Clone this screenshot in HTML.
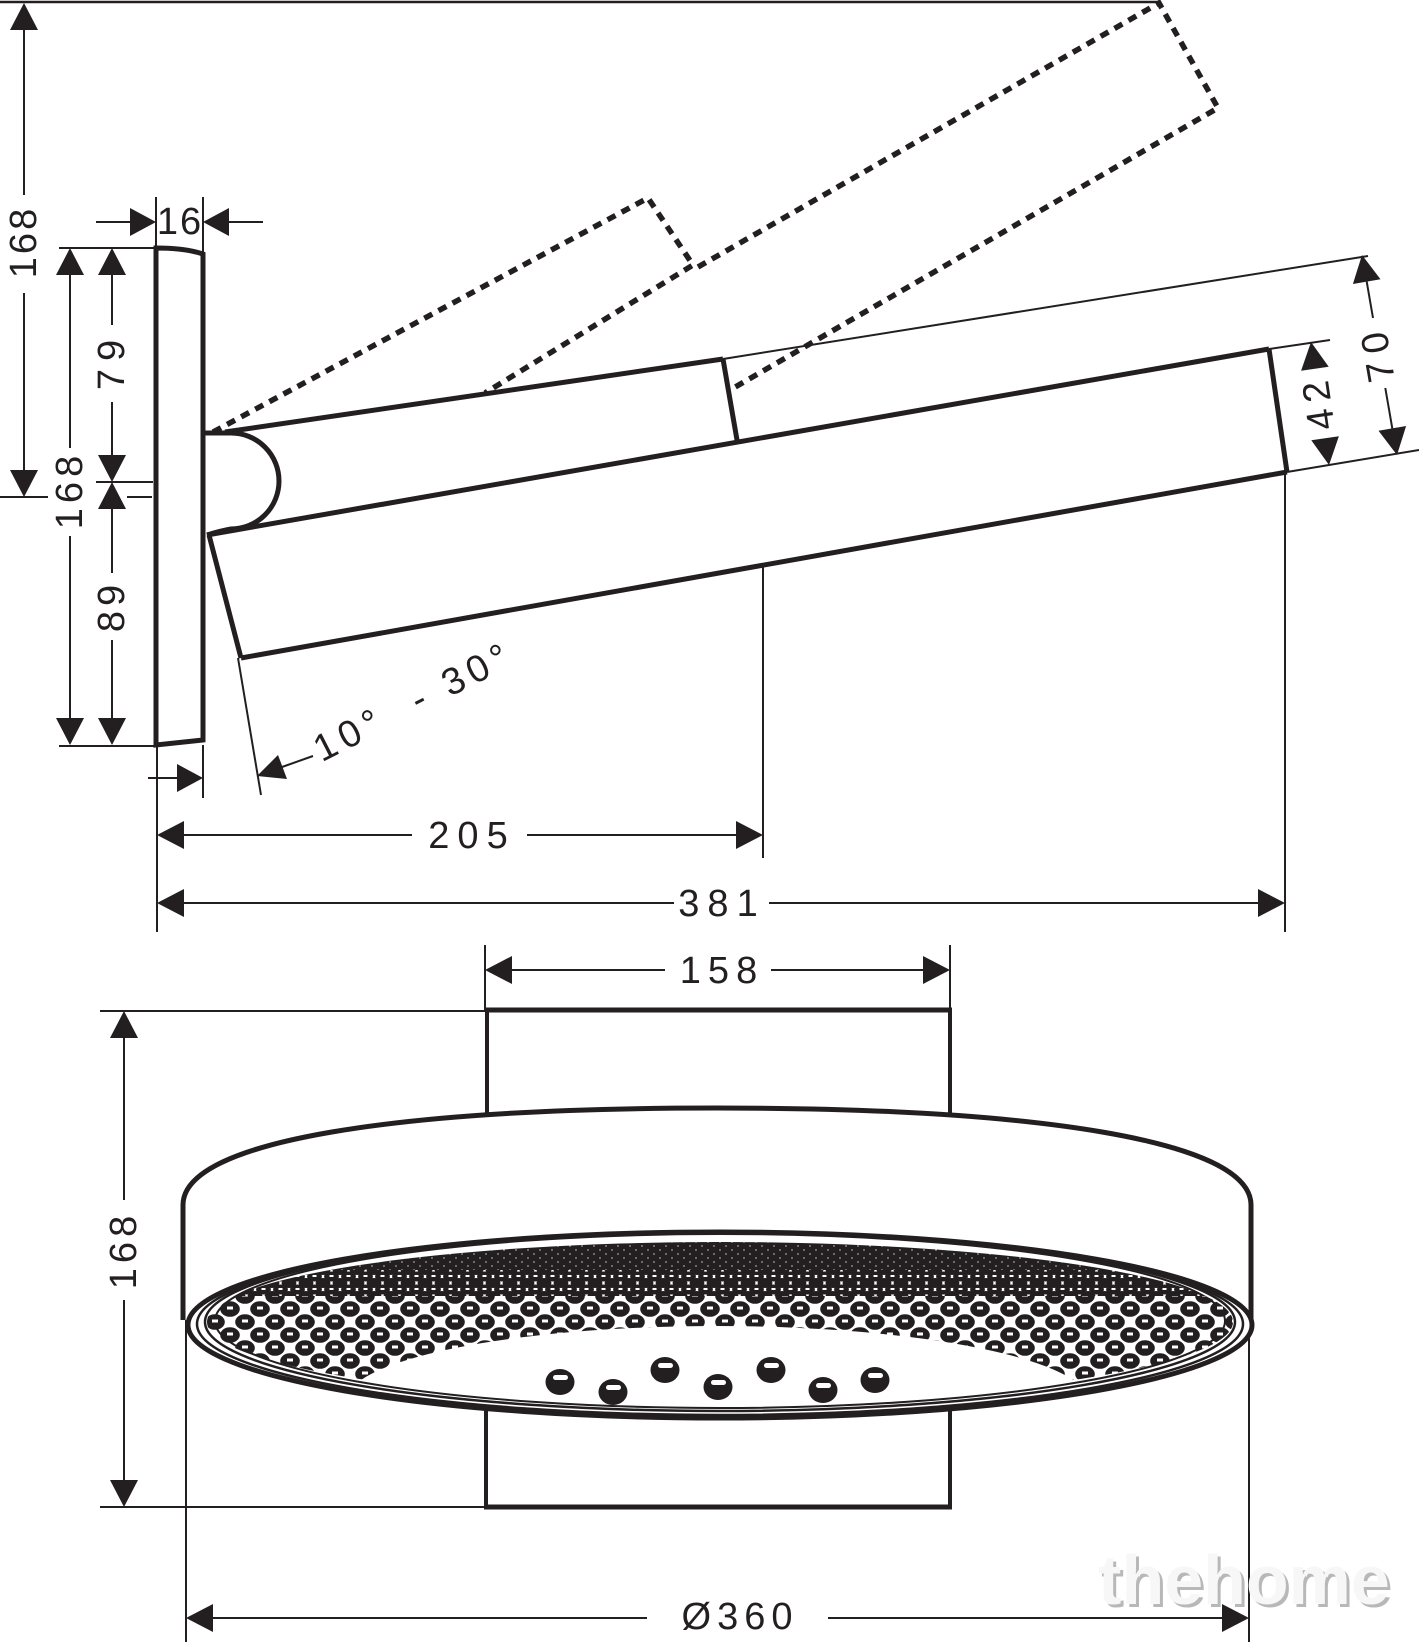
<!DOCTYPE html>
<html><head><meta charset="utf-8">
<style>
html,body{margin:0;padding:0;background:#fff;}
svg{display:block;}
text{font-family:"Liberation Sans",sans-serif;font-size:38px;fill:#231f20;}
</style></head>
<body>
<svg width="1419" height="1642" viewBox="0 0 1419 1642" xmlns="http://www.w3.org/2000/svg">
<defs>
  <pattern id="p1" patternUnits="userSpaceOnUse" x="0" y="1238" width="12" height="8">
    <ellipse cx="6" cy="4" rx="5.5" ry="3.5" fill="#231f20"/>
    <ellipse cx="0" cy="0" rx="5.5" ry="3.5" fill="#231f20"/>
    <ellipse cx="12" cy="0" rx="5.5" ry="3.5" fill="#231f20"/>
    <ellipse cx="0" cy="8" rx="5.5" ry="3.5" fill="#231f20"/>
    <ellipse cx="12" cy="8" rx="5.5" ry="3.5" fill="#231f20"/>
  </pattern>
  <pattern id="p2" patternUnits="userSpaceOnUse" x="0" y="1270" width="17" height="13">
    <ellipse cx="8.5" cy="6.5" rx="7.4" ry="5" fill="#231f20"/>
    <ellipse cx="0" cy="0" rx="7.4" ry="5" fill="#231f20"/>
    <ellipse cx="17" cy="0" rx="7.4" ry="5" fill="#231f20"/>
    <ellipse cx="0" cy="13" rx="7.4" ry="5" fill="#231f20"/>
    <ellipse cx="17" cy="13" rx="7.4" ry="5" fill="#231f20"/>
    <rect x="6.5" y="5" width="4" height="2" fill="#fff"/>
  </pattern>
  <pattern id="p3" patternUnits="userSpaceOnUse" x="5" y="1296" width="30" height="26">
    <ellipse cx="15" cy="13" rx="9.8" ry="7.8" fill="#231f20"/>
    <ellipse cx="0" cy="0" rx="9.8" ry="7.8" fill="#231f20"/>
    <ellipse cx="30" cy="0" rx="9.8" ry="7.8" fill="#231f20"/>
    <ellipse cx="0" cy="26" rx="9.8" ry="7.8" fill="#231f20"/>
    <ellipse cx="30" cy="26" rx="9.8" ry="7.8" fill="#231f20"/>
    <rect x="12" y="10.5" width="6" height="3" fill="#fff"/>
    <rect x="-3" y="-2.5" width="6" height="3" fill="#fff"/>
    <rect x="27" y="-2.5" width="6" height="3" fill="#fff"/>
    <rect x="-3" y="23.5" width="6" height="3" fill="#fff"/>
    <rect x="27" y="23.5" width="6" height="3" fill="#fff"/>
  </pattern>
  <mask id="dm" maskUnits="userSpaceOnUse" x="0" y="0" width="1419" height="1642">
    <rect x="0" y="0" width="1419" height="1642" fill="#000"/>
    <ellipse cx="720" cy="1322" rx="513" ry="80" fill="#fff"/>
    <ellipse cx="717" cy="1402" rx="372" ry="76" fill="#000"/>
  </mask>
</defs>

<g stroke="#231f20" fill="none" stroke-linecap="butt">
  <!-- ===== TOP VIEW ===== -->
  <line x1="0" y1="2" x2="1159" y2="2" stroke-width="2.5"/>

  <g stroke-width="5.5" stroke-dasharray="9 7">
    <path d="M213,432 L648,198 L693,265 L485,393"/>
    <path d="M698,267 L1159,3 L1218,108 L730,390"/>
  </g>

  <path d="M156,745 L156,248 Q185,248 203,254 L203,740 Q185,742 156,745 Z" stroke-width="5"/>

  <path d="M203,433 L231,433 A48,48 0 0 1 231,529 Q220,531 207,535" stroke-width="5"/>

  <g stroke-width="5" stroke-linejoin="round">
    <line x1="225" y1="432" x2="723" y2="359"/>
    <line x1="723" y1="359" x2="737" y2="440"/>
    <line x1="207" y1="535" x2="1269" y2="349"/>
    <line x1="1269" y1="349" x2="1287" y2="472"/>
    <line x1="1287" y1="472" x2="241" y2="658"/>
    <line x1="209" y1="535" x2="241" y2="658"/>
  </g>

  <g stroke-width="2">
    <line x1="723" y1="359" x2="1368" y2="256"/>
    <line x1="1269" y1="349" x2="1330" y2="340"/>
    <line x1="1287" y1="472" x2="1419" y2="450"/>
    <line x1="238" y1="658" x2="261" y2="795"/>
    <line x1="763" y1="567" x2="763" y2="858"/>
    <line x1="1285" y1="473" x2="1285" y2="932"/>
    <line x1="157" y1="745" x2="157" y2="932"/>
    <line x1="203" y1="745" x2="203" y2="798"/>
    <line x1="156" y1="197" x2="156" y2="248"/>
    <line x1="203" y1="197" x2="203" y2="252"/>
    <line x1="59" y1="248" x2="156" y2="248"/>
    <line x1="96" y1="482" x2="153" y2="482"/>
    <line x1="0" y1="497" x2="48" y2="497"/>
    <line x1="127" y1="497" x2="152" y2="497"/>
    <line x1="59" y1="746" x2="156" y2="746"/>
    <line x1="24" y1="30" x2="24" y2="195"/>
    <line x1="24" y1="293" x2="24" y2="470"/>
    <line x1="70" y1="275" x2="70" y2="448"/>
    <line x1="70" y1="536" x2="70" y2="718"/>
    <line x1="112" y1="275" x2="112" y2="325"/>
    <line x1="112" y1="402" x2="112" y2="455"/>
    <line x1="112" y1="509" x2="112" y2="573"/>
    <line x1="112" y1="640" x2="112" y2="718"/>
    <line x1="96" y1="222" x2="130" y2="222"/>
    <line x1="229" y1="222" x2="263" y2="222"/>
    <line x1="148" y1="778" x2="177" y2="778"/>
    <line x1="282" y1="767" x2="313" y2="756"/>
    <line x1="184" y1="835" x2="412" y2="835"/>
    <line x1="527" y1="835" x2="736" y2="835"/>
    <line x1="184" y1="903" x2="674" y2="903"/>
    <line x1="769" y1="903" x2="1258" y2="903"/>
    <line x1="1366.7" y1="281.6" x2="1373" y2="318"/>
    <line x1="1385.3" y1="388" x2="1392.3" y2="428.4"/>
  </g>

  <!-- ===== BOTTOM VIEW ===== -->
  <g stroke-width="2">
    <line x1="485" y1="945" x2="485" y2="1010"/>
    <line x1="950" y1="945" x2="950" y2="1010"/>
    <line x1="512" y1="970" x2="665" y2="970"/>
    <line x1="771" y1="970" x2="923" y2="970"/>
    <line x1="100" y1="1011" x2="485" y2="1011"/>
    <line x1="100" y1="1507" x2="484" y2="1507"/>
    <line x1="124" y1="1038" x2="124" y2="1200"/>
    <line x1="124" y1="1300" x2="124" y2="1480"/>
    <line x1="186" y1="1320" x2="186" y2="1642"/>
    <line x1="1249" y1="1320" x2="1249" y2="1642"/>
    <line x1="213" y1="1618" x2="647" y2="1618"/>
    <line x1="828" y1="1618" x2="1222" y2="1618"/>
  </g>

  <path d="M486,1390 L486,1507 L950,1507 L950,1390" stroke-width="4"/>
  <line x1="484" y1="1507" x2="952" y2="1507" stroke-width="5"/>
  <path d="M487,1130 L487,1010 L950,1010 L950,1130" stroke-width="4"/>
  <line x1="485" y1="1010" x2="952" y2="1010" stroke-width="5"/>

  <!-- body -->
  <path d="M183,1320 L183,1205 C183,1140 400,1108 717,1108 C1034,1108 1251,1140 1251,1205 L1251,1320 Z" fill="#fff" stroke="none"/>
  <path d="M183,1320 L183,1205 C183,1140 400,1108 717,1108 C1034,1108 1251,1140 1251,1205 L1251,1320" stroke-width="5"/>

  <!-- face -->
  <ellipse cx="720" cy="1325" rx="532" ry="93" fill="#fff" stroke-width="5"/>
  <ellipse cx="720" cy="1324" rx="523" ry="91" stroke-width="2.5"/>
  <ellipse cx="720" cy="1322" rx="515" ry="89" stroke-width="2.5"/>
  <ellipse cx="720" cy="1321" rx="505" ry="87" stroke-width="2"/>
</g>

<!-- nozzle field -->
<g mask="url(#dm)">
  <rect x="200" y="1236" width="1040" height="34" fill="url(#p1)"/>
  <rect x="200" y="1270" width="1040" height="26" fill="url(#p2)"/>
  <rect x="200" y="1296" width="1040" height="100" fill="url(#p3)"/>
</g>

<!-- big nozzles -->
<g fill="#231f20">
  <ellipse cx="560" cy="1382" rx="14.5" ry="13"/>
  <ellipse cx="613" cy="1392" rx="14.5" ry="13"/>
  <ellipse cx="665" cy="1370" rx="14.5" ry="13"/>
  <ellipse cx="718" cy="1387" rx="14.5" ry="13"/>
  <ellipse cx="771" cy="1370" rx="14.5" ry="13"/>
  <ellipse cx="823" cy="1390" rx="14.5" ry="13"/>
  <ellipse cx="875" cy="1380" rx="14.5" ry="13"/>
</g>
<g fill="#fff">
  <rect x="553" y="1375" width="15" height="5" rx="2.5"/>
  <rect x="606" y="1385" width="15" height="5" rx="2.5"/>
  <rect x="658" y="1363" width="15" height="5" rx="2.5"/>
  <rect x="711" y="1380" width="15" height="5" rx="2.5"/>
  <rect x="764" y="1363" width="15" height="5" rx="2.5"/>
  <rect x="816" y="1383" width="15" height="5" rx="2.5"/>
  <rect x="868" y="1373" width="15" height="5" rx="2.5"/>
</g>

<!-- arrowheads -->
<g fill="#231f20">
  <polygon points="24,3 10,30 38,30"/>
  <polygon points="24,497 10,470 38,470"/>
  <polygon points="70,248 56,275 84,275"/>
  <polygon points="70,745 56,718 84,718"/>
  <polygon points="112,248 98,275 126,275"/>
  <polygon points="112,482 98,455 126,455"/>
  <polygon points="112,482 98,509 126,509"/>
  <polygon points="112,745 98,718 126,718"/>
  <polygon points="156,222 130,208 130,236"/>
  <polygon points="203,222 229,208 229,236"/>
  <polygon points="203,778 177,764 177,792"/>
  <polygon points="257,776 278,755 287,779"/>
  <polygon points="157,835 184,821 184,849"/>
  <polygon points="763,835 736,821 736,849"/>
  <polygon points="157,903 184,889 184,917"/>
  <polygon points="1285,903 1258,889 1258,917"/>
  <polygon points="1311,342 1328.7,366.7 1301.1,370.7"/>
  <polygon points="1329,465 1338.9,436.3 1311.3,440.3"/>
  <polygon points="1362,255 1380.5,279.2 1352.9,284"/>
  <polygon points="1397,455 1406.1,426 1378.5,430.8"/>
  <polygon points="485,970 512,956 512,984"/>
  <polygon points="950,970 923,956 923,984"/>
  <polygon points="124,1011 110,1038 138,1038"/>
  <polygon points="124,1507 110,1480 138,1480"/>
  <polygon points="186,1618 213,1604 213,1632"/>
  <polygon points="1249,1618 1222,1604 1222,1632"/>
</g>

<!-- labels -->
<g text-anchor="middle" dominant-baseline="central">
  <text x="180" y="222" style="letter-spacing:2px">16</text>
  <text x="0" y="0" transform="translate(24,242) rotate(-90)" style="letter-spacing:3px">168</text>
  <text x="0" y="0" transform="translate(70,490) rotate(-90)" style="letter-spacing:5px">168</text>
  <text x="0" y="0" transform="translate(112,361) rotate(-90)" style="letter-spacing:8px">79</text>
  <text x="0" y="0" transform="translate(112,606) rotate(-90)" style="letter-spacing:5px">89</text>
  <text x="0" y="0" transform="translate(1319,402) rotate(-98.3)" style="letter-spacing:7px">42</text>
  <text x="0" y="0" transform="translate(1378,353) rotate(-99.9)" style="letter-spacing:8px">70</text>
  <text x="0" y="0" transform="translate(414,702) rotate(-27)" style="letter-spacing:6px">10°&#160;&#160;-&#160;30°</text>
  <text x="472" y="836" style="letter-spacing:8px">205</text>
  <text x="722" y="904" style="letter-spacing:8px">381</text>
  <text x="722" y="971" style="letter-spacing:7px">158</text>
  <text x="0" y="0" transform="translate(124,1250) rotate(-90)" style="letter-spacing:5px">168</text>
  <text x="740" y="1617" style="letter-spacing:6px">Ø360</text>
</g>

<!-- watermark -->
<text x="1247" y="1607" text-anchor="middle" style="font-family:'Liberation Sans',sans-serif;font-weight:bold;font-size:70px;fill:#b8b8b8;">thehome</text>
<text x="1244" y="1604" text-anchor="middle" style="font-family:'Liberation Sans',sans-serif;font-weight:bold;font-size:70px;fill:#f7f7f7;">thehome</text>
</svg>
</body></html>
